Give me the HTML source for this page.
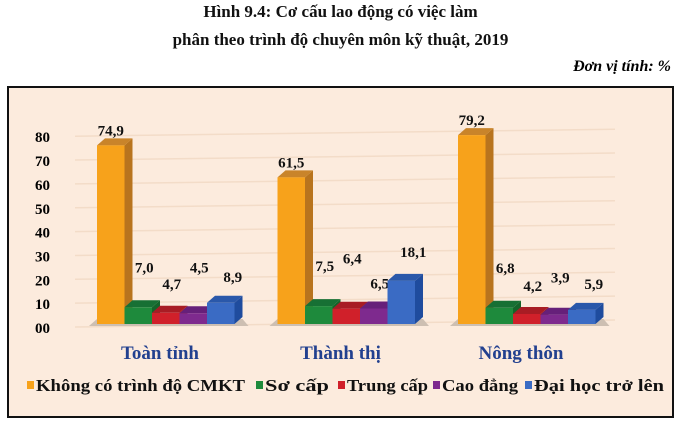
<!DOCTYPE html>
<html><head><meta charset="utf-8"><style>
body{margin:0;width:681px;height:422px;background:#fff;overflow:hidden;font-family:"Liberation Serif",serif}
.t{position:absolute;left:0;width:681px;text-align:center;font-weight:bold;font-size:17px;color:#111}
</style></head><body>
<div class="t" style="top:2px">Hình 9.4: Cơ cấu lao động có việc làm</div>
<div class="t" style="top:30px">phân theo trình độ chuyên môn kỹ thuật, 2019</div>
<div style="position:absolute;right:10px;top:58px;font-style:italic;font-weight:bold;font-size:16px">Đơn vị tính: %</div>
<svg id="c" width="681" height="422" style="position:absolute;left:0;top:0">
<rect x="8" y="87" width="665" height="330" fill="#FCEBDD" stroke="#111" stroke-width="2"/>
</svg>
<script>
const categories=["Toàn tỉnh","Thành thị","Nông thôn"];
const seriesNames=["Không có trình độ CMKT","Sơ cấp","Trung cấp","Cao đẳng","Đại học trở lên"];
const s0=[74.9,61.5,79.2];
const s1=[7.0,7.5,6.8];
const s2=[4.7,6.4,4.2];
const s3=[4.5,6.5,3.9];
const s4=[8.9,18.1,5.9];
const labelTexts=[["74,9","61,5","79,2"],["7,0","7,5","6,8"],["4,7","6,4","4,2"],["4,5","6,5","3,9"],["8,9","18,1","5,9"]];
const yTicks=["00","10","20","30","40","50","60","70","80"];
const series=[s0,s1,s2,s3,s4];
const labelGap=[[9,9,9],[34,34,34],[23,44,22],[40,19,31],[20,23,20]];
const colors=["#F7A21B","#1E8A3C","#D0202A","#7E2A8E","#3A6BC4"];
const sides=["#B8741E","#14642A","#971820","#5A1C66","#1F4C9E"];
const tops=["#C9842A","#177034","#A81C24","#66207A","#2A58AA"];
const NS="http://www.w3.org/2000/svg";
const svg=document.getElementById('c');
const base=324,k=2.385,bw=27.5,dx=8,dy=7;
const y=v=>base-v*k;
const gx=i=>97+i*180.5;
function mk(t,a){const e=document.createElementNS(NS,t);for(const n in a)e.setAttribute(n,a[n]);svg.appendChild(e);return e;}
yTicks.forEach((t,i)=>{
 const v=i*10;
 const g=mk('line',{x1:75,y1:y(v)+3,x2:615,y2:y(v)-4,stroke:'#F3DCC8','stroke-width':1.5});
 
 const tx=mk('text',{x:35,y:y(v)+9,'font-size':15,'font-weight':'bold','font-family':'Liberation Serif,serif'});
 tx.textContent=t;
 
});
categories.forEach((c,g)=>{
 const sh=mk('polygon',{points:`${gx(g)-8},${base+2} ${gx(g)+5*bw+14},${base+2} ${gx(g)+5*bw+dx},${base-dy+2} ${gx(g)},${base-dy+2}`,fill:'#CDBFB2'});
 
 series.forEach((s,i)=>{
  const x=gx(g)+i*bw, t=y(s[g]);
  const gr=document.createElementNS(NS,'g');svg.appendChild(gr);
  
  
  const add=(tag,a)=>{const e=document.createElementNS(NS,tag);for(const n in a)e.setAttribute(n,a[n]);gr.appendChild(e);};
  add('polygon',{points:`${x+bw},${t} ${x+bw+dx},${t-dy} ${x+bw+dx},${base-dy} ${x+bw},${base}`,fill:sides[i]});
  add('polygon',{points:`${x},${t} ${x+dx},${t-dy} ${x+bw+dx},${t-dy} ${x+bw},${t}`,fill:tops[i]});
  add('rect',{x:x,y:t,width:bw,height:base-t,fill:colors[i]});
  const lx=i==0?x+bw/2:x+bw/2+(i==4?12:6);
  const lb=mk('text',{x:lx,y:t-dy-labelGap[i][g]+6,'text-anchor':'middle','font-size':15,'font-weight':'bold','font-family':'Liberation Serif,serif',fill:'#111'});
  lb.textContent=labelTexts[i][g];
  
 });
 const cl=mk('text',{x:gx(g)+63,y:359,'text-anchor':'middle','font-size':19,'font-weight':'bold','font-family':'Liberation Serif,serif',fill:'#22408F'});
 cl.textContent=c;
 
});
const lgX=[27,256,338,433,525];
const lgW=[209,64,81,76,130];
seriesNames.forEach((n,i)=>{
 const r=mk('rect',{x:lgX[i],y:381,width:7,height:8,fill:colors[i]});
 
 const t=mk('text',{x:lgX[i]+9,y:391,'font-size':17,'font-weight':'bold','font-family':'Liberation Serif,serif',fill:'#111',textLength:lgW[i],lengthAdjust:'spacingAndGlyphs'});
 t.textContent=n;
 
});
</script>
</body></html>
